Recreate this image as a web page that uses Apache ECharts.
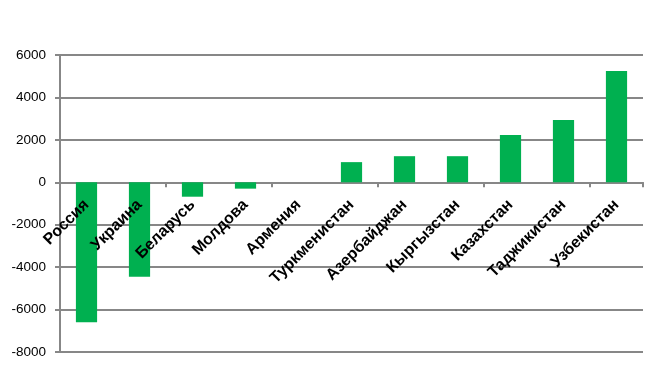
<!DOCTYPE html>
<html>
<head>
<meta charset="utf-8">
<script src="https://cdn.jsdelivr.net/npm/echarts@6/dist/echarts.min.js"></script>
<style>html,body{margin:0;padding:0;background:#fff}#c{width:659px;height:386px}</style>
</head>
<body>
<div id="c"></div>
<script>
var categories = ['Россия','Украина','Беларусь','Молдова','Армения','Туркменистан','Азербайджан','Кыргызстан','Казахстан','Таджикистан','Узбекистан'];
var values = [-6600, -4450, -680, -300, 0, 950, 1230, 1230, 2230, 2940, 5250];
var yMin = -8000, yMax = 6000, yStep = 2000;

var gridTop = 55, gridBottom = 34, H = 386;
var gridH = H - gridTop - gridBottom;
var zeroOffset = -gridH * (0 - yMin) / (yMax - yMin);

var labelStyle = {
  interval: 0, rotate: 45, margin: 20,
  color: '#000', fontFamily: 'Liberation Sans, Arial, sans-serif',
  fontWeight: 'bold', fontSize: 16
};

var chart = echarts.init(document.getElementById('c'), null, {renderer: 'canvas'});
chart.setOption({
  animation: false,
  backgroundColor: '#ffffff',
  grid: {left: 60, right: 16, top: gridTop, bottom: gridBottom, containLabel: false, outerBoundsMode: 'none'},
  xAxis: [{
    type: 'category',
    data: categories,
    axisLine: {onZero: true, lineStyle: {color: '#878787', width: 2}},
    axisTick: {show: true, length: 5, lineStyle: {color: '#878787', width: 2}},
    axisLabel: {show: false},
    splitLine: {show: false}
  }, {
    type: 'category',
    data: categories,
    position: 'bottom',
    offset: zeroOffset,
    z: 10,
    axisLine: {show: false},
    axisTick: {show: false},
    axisLabel: labelStyle,
    splitLine: {show: false}
  }],
  yAxis: {
    type: 'value',
    min: yMin, max: yMax, interval: yStep,
    axisLine: {show: true, lineStyle: {color: '#878787', width: 2}},
    axisTick: {show: true, length: 5, lineStyle: {color: '#878787', width: 2}},
    axisLabel: {color: '#000', fontFamily: 'Liberation Sans, Arial, sans-serif', fontSize: 13.5, margin: 14,
      formatter: function (v) { return String(v); }},
    splitLine: {show: true, lineStyle: {color: '#878787', width: 2}}
  },
  series: [{
    type: 'bar',
    xAxisIndex: 0,
    data: values,
    barWidth: '40%',
    itemStyle: {color: '#00B050'}
  }]
});
</script>
</body>
</html>
